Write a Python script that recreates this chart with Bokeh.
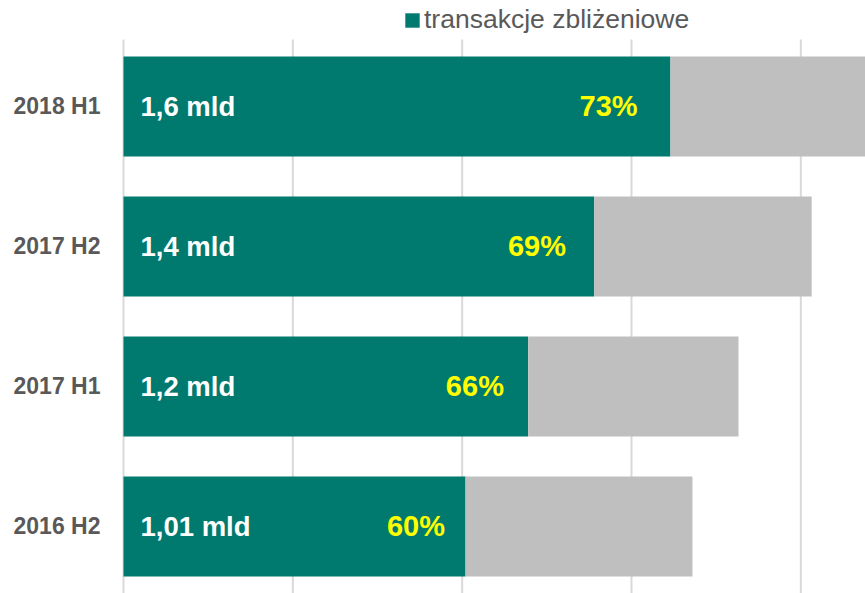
from bokeh.plotting import figure
from bokeh.models import Range1d, FixedTicker, Legend, LegendItem, ColumnDataSource
from bokeh.core.properties import value
from bokeh.embed import file_html
from bokeh.resources import INLINE

# ---- data (bottom to top) ----
categories = ["2016 H2", "2017 H1", "2017 H2", "2018 H1"]
contactless = [1.01, 1.195, 1.39, 1.615]      # bln contactless transactions
total = [1.68, 1.816, 2.032, 2.21]            # bln card transactions in total
volume_labels = ["1,01 mld", "1,2 mld", "1,4 mld", "1,6 mld"]
share_labels = ["60%", "66%", "69%", "73%"]
grid_ticks = [0, 0.5, 1.0, 1.5, 2.0]

FONT = "Liberation Sans"
TEAL = "#007A6E"
GREY = "#BFBFBF"

Y_MIN, Y_MAX = -0.4786, 3.757     # frame spans the whole height
GRID_TOP = 3.4786                 # grid lines stop below the legend

idx = list(range(len(categories)))
src = ColumnDataSource(dict(
    y=idx,
    teal=contactless,
    total=total,
    vol=volume_labels,
    share=share_labels,
    share_x=[v * 0.94 for v in contactless],
))

p = figure(width=865, height=593, output_backend="svg", toolbar_location=None,
           x_range=Range1d(-0.0059, 2.191), y_range=Range1d(Y_MIN, Y_MAX),
           min_border_left=121, min_border_right=0, min_border_top=0,
           min_border_bottom=0)
p.outline_line_color = None
p.background_fill_color = "white"

# vertical grid lines
p.segment(x0=grid_ticks, x1=grid_ticks, y0=[Y_MIN] * len(grid_ticks),
          y1=[GRID_TOP] * len(grid_ticks), line_color="#D9D9D9", line_width=2)

teal_r = p.hbar(y="y", left=0, right="teal", height=0.714, source=src,
                fill_color=TEAL, line_color=None)
p.hbar(y="y", left="teal", right="total", height=0.714, source=src,
       fill_color=GREY, line_color=None)

p.text(x=0, y="y", text="vol", source=src, x_offset=17,
       text_align="left", text_baseline="middle",
       text_font=value(FONT), text_font_style="bold",
       text_font_size="27.5px", text_color="white")
p.text(x="share_x", y="y", text="share", source=src,
       text_align="right", text_baseline="middle",
       text_font=value(FONT), text_font_style="bold",
       text_font_size="29px", text_color="#FFFF00")

p.xaxis.visible = False
p.xgrid.grid_line_color = None
p.ygrid.grid_line_color = None

p.yaxis.ticker = FixedTicker(ticks=idx)
p.yaxis.major_label_overrides = {i: c for i, c in zip(idx, categories)}
p.yaxis.axis_line_color = None
p.yaxis.major_tick_line_color = None
p.yaxis.minor_tick_line_color = None
p.yaxis.major_tick_out = 0
p.yaxis.major_tick_in = 0
p.yaxis.major_label_standoff = 21
p.yaxis.major_label_text_font = FONT
p.yaxis.major_label_text_font_style = "bold"
p.yaxis.major_label_text_font_size = "23px"
p.yaxis.major_label_text_color = "#595959"

legend = Legend(items=[LegendItem(label="transakcje zbliżeniowe", renderers=[teal_r])],
                location=(282, 558), orientation="horizontal",
                border_line_color=None, background_fill_alpha=0,
                glyph_width=18, glyph_height=18, label_standoff=3,
                label_height=28,
                label_text_font=FONT, label_text_font_size="26.5px",
                label_text_color="#595959", padding=0, margin=0, spacing=0)
p.add_layout(legend)

open("out.html", "w").write(file_html(p, INLINE))
